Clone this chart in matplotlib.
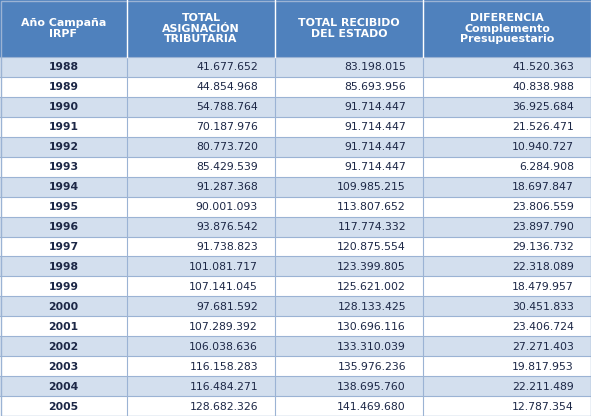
import matplotlib.pyplot as plt
from matplotlib.patches import Rectangle

headers = ["Año Campaña\nIRPF", "TOTAL\nASIGNACIÓN\nTRIBUTARIA",
           "TOTAL RECIBIDO\nDEL ESTADO", "DIFERENCIA\nComplemento\nPresupuestario"]
years = [str(y) for y in range(1988, 2006)]
asignacion = ["41.677.652", "44.854.968", "54.788.764", "70.187.976", "80.773.720",
              "85.429.539", "91.287.368", "90.001.093", "93.876.542", "91.738.823",
              "101.081.717", "107.141.045", "97.681.592", "107.289.392", "106.038.636",
              "116.158.283", "116.484.271", "128.682.326"]
recibido = ["83.198.015", "85.693.956", "91.714.447", "91.714.447", "91.714.447",
            "91.714.447", "109.985.215", "113.807.652", "117.774.332", "120.875.554",
            "123.399.805", "125.621.002", "128.133.425", "130.696.116", "133.310.039",
            "135.976.236", "138.695.760", "141.469.680"]
diferencia = ["41.520.363", "40.838.988", "36.925.684", "21.526.471", "10.940.727",
              "6.284.908", "18.697.847", "23.806.559", "23.897.790", "29.136.732",
              "22.318.089", "18.479.957", "30.451.833", "23.406.724", "27.271.403",
              "19.817.953", "22.211.489", "12.787.354"]

W, H = 591, 416
fig = plt.figure(figsize=(W / 100, H / 100), dpi=100)
ax = fig.add_axes([0, 0, 1, 1])
ax.set_xlim(0, W)
ax.set_ylim(H, 0)
ax.axis("off")

cols = [0, 127, 275, 423, 591]
head_h = 57
row_h = (H - head_h) / len(years)
text_col = "#1c2746"

ax.add_patch(Rectangle((0, 0), W, head_h, color="#4f81bd", lw=0))
for c in range(4):
    ax.text((cols[c] + cols[c + 1]) / 2, head_h / 2, headers[c], ha="center", va="center",
            color="white", fontsize=7.9, fontweight="bold", linespacing=1.05)

for r, yr in enumerate(years):
    y0 = head_h + r * row_h
    bg = "#d3dfee" if r % 2 == 0 else "white"
    ax.add_patch(Rectangle((0, y0), W, row_h, color=bg, lw=0))
    ax.axhline(y0, color="#9bb3d4", lw=0.8)
    ym = y0 + row_h / 2 + 0.5
    ax.text((cols[0] + cols[1]) / 2, ym, yr, ha="center", va="center",
            color=text_col, fontsize=7.8, fontweight="bold")
    for c, vals in enumerate([asignacion, recibido, diferencia], start=1):
        ax.text(cols[c + 1] - 17, ym, vals[r], ha="right", va="center",
                color=text_col, fontsize=7.8)

for x in cols[1:-1]:
    ax.plot([x, x], [0, H], color="#9bb3d4", lw=0.8)
    ax.plot([x, x], [0, head_h], color="white", lw=1)
ax.add_patch(Rectangle((0.5, 0.5), W - 1, H - 1, fill=False, ec="#9bb3d4", lw=1))

fig.savefig("out.png", dpi=100)
